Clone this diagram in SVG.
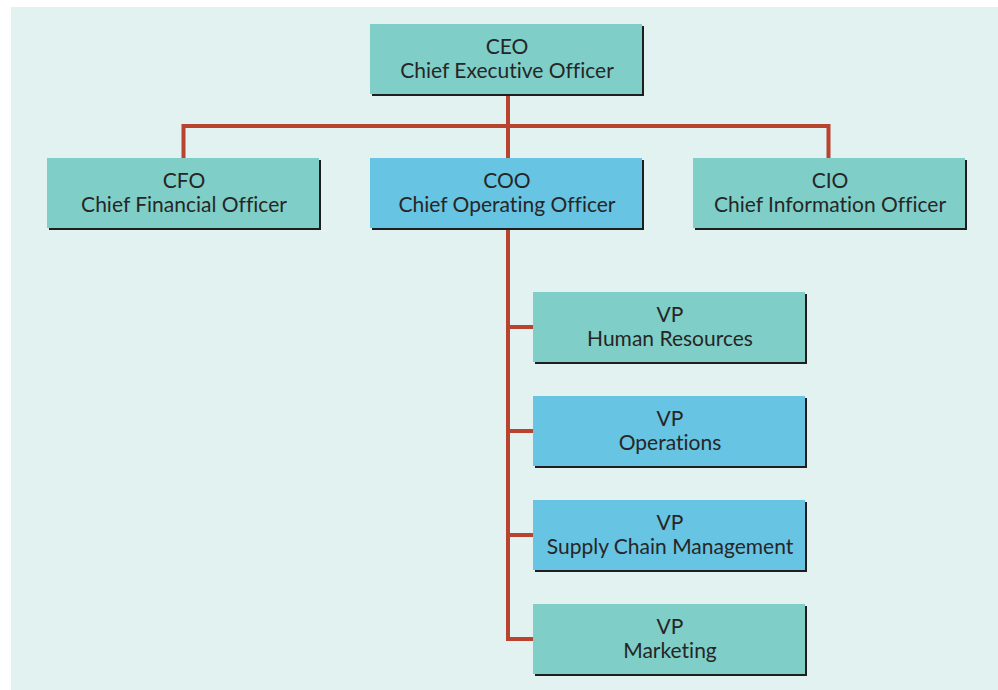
<svg xmlns="http://www.w3.org/2000/svg" width="998" height="690" viewBox="0 0 998 690">
  <style>
    .box { stroke: none; }
    .teal { fill: #7fcfc8; }
    .blue { fill: #67c4e2; }
    .shadow { fill: #1e1e1e; }
    .lbl { font-family: Lato, "Open Sans", sans-serif; font-size: 21px; fill: #262626; text-anchor: middle; font-variant-ligatures: none; }
    .conn { fill: none; stroke: #b8432f; stroke-width: 4; stroke-linejoin: miter; }
  </style>
  <rect x="0" y="0" width="998" height="690" fill="#ffffff"/>
  <rect x="11" y="7" width="987" height="683" fill="#e2f2f1"/>

  <g id="connectors">
    <path class="conn" d="M508 95 V158"/>
    <path class="conn" d="M183.5 158 V126 H828.5 V158"/>
    <path class="conn" d="M508 228 V639 H533"/>
    <path class="conn" d="M508 327 H533 M508 431 H533 M508 535 H533"/>
  </g>

  <g id="ceo">
    <rect class="shadow" x="372" y="26" width="272" height="70"/>
    <rect class="box teal" x="370" y="24" width="272" height="70"/>
    <text class="lbl" x="507" y="54">CEO</text>
    <text class="lbl" x="507" y="78">Chief Executive Officer</text>
  </g>

  <g id="cfo">
    <rect class="shadow" x="49" y="160" width="272" height="70"/>
    <rect class="box teal" x="47" y="158" width="272" height="70"/>
    <text class="lbl" x="184" y="188">CFO</text>
    <text class="lbl" x="184" y="212">Chief Financial Officer</text>
  </g>

  <g id="coo">
    <rect class="shadow" x="372" y="160" width="272" height="70"/>
    <rect class="box blue" x="370" y="158" width="272" height="70"/>
    <text class="lbl" x="507" y="188">COO</text>
    <text class="lbl" x="507" y="212">Chief Operating Officer</text>
  </g>

  <g id="cio">
    <rect class="shadow" x="695" y="160" width="272" height="70"/>
    <rect class="box teal" x="693" y="158" width="272" height="70"/>
    <text class="lbl" x="830" y="188">CIO</text>
    <text class="lbl" x="830" y="212">Chief Information Officer</text>
  </g>

  <g id="vp-hr">
    <rect class="shadow" x="535" y="294" width="272" height="70"/>
    <rect class="box teal" x="533" y="292" width="272" height="70"/>
    <text class="lbl" x="670" y="322">VP</text>
    <text class="lbl" x="670" y="346">Human Resources</text>
  </g>

  <g id="vp-ops">
    <rect class="shadow" x="535" y="398" width="272" height="70"/>
    <rect class="box blue" x="533" y="396" width="272" height="70"/>
    <text class="lbl" x="670" y="426">VP</text>
    <text class="lbl" x="670" y="450">Operations</text>
  </g>

  <g id="vp-scm">
    <rect class="shadow" x="535" y="502" width="272" height="70"/>
    <rect class="box blue" x="533" y="500" width="272" height="70"/>
    <text class="lbl" x="670" y="530">VP</text>
    <text class="lbl" x="670" y="554">Supply Chain Management</text>
  </g>

  <g id="vp-mkt">
    <rect class="shadow" x="535" y="606" width="272" height="70"/>
    <rect class="box teal" x="533" y="604" width="272" height="70"/>
    <text class="lbl" x="670" y="634">VP</text>
    <text class="lbl" x="670" y="658">Marketing</text>
  </g>
</svg>
